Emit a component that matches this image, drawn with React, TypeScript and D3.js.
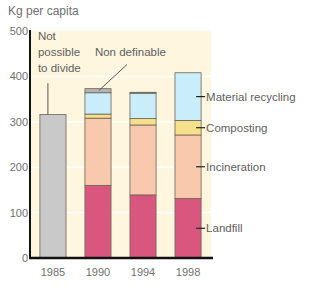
import { useEffect, useRef } from 'react';
import * as d3 from 'd3';

const years = ['1985', '1990', '1994', '1998'];
const undivided = [316, null, null, null];
const landfill = [0, 160, 139, 131];
const incineration = [0, 148, 154, 140];
const composting = [0, 9, 14, 32];
const recycling = [0, 47, 56, 105];
const nonDefinable = [0, 9, 2, 0];
const yTicks = [0, 100, 200, 300, 400, 500];

const seriesKeys = ['landfill', 'incineration', 'composting', 'recycling', 'nonDefinable'];
const seriesLabels = ['Landfill', 'Incineration', 'Composting', 'Material recycling', ''];
const seriesColors = ['#d9577f', '#f8c9ac', '#f7e08c', '#c9edfb', '#b4b4b4'];

const App = () => {
  const svgRef = useRef<SVGSVGElement>(null);

  useEffect(() => {
    if (!svgRef.current) return;
    const width = 309;
    const height = 288;
    d3.select(svgRef.current).selectAll('*').remove();

    const svg = d3.select(svgRef.current)
      .attr('width', width)
      .attr('height', height)
      .style('font-family', '"Liberation Sans", Arial, sans-serif');

    const margin = { top: 31, right: 98, bottom: 30, left: 30 };
    const innerWidth = width - margin.left - margin.right;
    const innerHeight = height - margin.top - margin.bottom;
    const g = svg.append('g').attr('transform', `translate(${margin.left},${margin.top})`);

    const xScale = d3.scaleBand().domain(years).range([0, innerWidth]).paddingInner(0.42).paddingOuter(0.22);
    const yScale = d3.scaleLinear().domain([0, 500]).range([innerHeight, 0]);

    // Background panel
    g.append('rect')
      .attr('x', 0).attr('y', 0)
      .attr('width', innerWidth).attr('height', innerHeight)
      .attr('fill', '#fff6df');

    // Grid lines
    g.selectAll('.grid')
      .data(yTicks.filter(t => t > 0 && t < 500))
      .enter()
      .append('line')
      .attr('x1', 0).attr('x2', innerWidth)
      .attr('y1', d => yScale(d)).attr('y2', d => yScale(d))
      .attr('stroke', '#ffffff').attr('stroke-width', 1.5);

    // Stacked data
    const table = years.map((y, i) => ({
      year: y,
      landfill: landfill[i],
      incineration: incineration[i],
      composting: composting[i],
      recycling: recycling[i],
      nonDefinable: nonDefinable[i],
    }));
    const stack = d3.stack<any>().keys(seriesKeys)(table);

    stack.forEach((layer, li) => {
      g.selectAll(`.bar-${li}`)
        .data(layer.filter(d => d[1] - d[0] > 0))
        .enter()
        .append('rect')
        .attr('x', d => xScale(d.data.year)!)
        .attr('y', d => yScale(d[1]))
        .attr('width', xScale.bandwidth())
        .attr('height', d => yScale(d[0]) - yScale(d[1]))
        .attr('fill', seriesColors[li])
        .attr('stroke', '#6e6355')
        .attr('stroke-width', 0.8);
    });

    // Undivided 1985 bar
    g.selectAll('.undivided')
      .data(years.map((y, i) => ({ year: y, v: undivided[i] })).filter(d => d.v !== null))
      .enter()
      .append('rect')
      .attr('x', d => xScale(d.year)!)
      .attr('y', d => yScale(d.v!))
      .attr('width', xScale.bandwidth())
      .attr('height', d => yScale(0) - yScale(d.v!))
      .attr('fill', '#c9c9c9')
      .attr('stroke', '#6e6355')
      .attr('stroke-width', 0.8);

    // Axes
    g.append('line')
      .attr('x1', 0).attr('x2', 0).attr('y1', -1).attr('y2', innerHeight)
      .attr('stroke', '#111').attr('stroke-width', 2);
    g.append('line')
      .attr('x1', -1).attr('x2', innerWidth + 2).attr('y1', innerHeight).attr('y2', innerHeight)
      .attr('stroke', '#111').attr('stroke-width', 2.5);

    g.selectAll('.ytick')
      .data(yTicks)
      .enter()
      .append('text')
      .attr('x', -2)
      .attr('y', d => yScale(d) + 4)
      .attr('text-anchor', 'end')
      .attr('fill', '#707070')
      .style('font-size', '11px')
      .text(d => d);

    g.selectAll('.xtick')
      .data(years)
      .enter()
      .append('text')
      .attr('x', d => xScale(d)! + xScale.bandwidth() / 2)
      .attr('y', innerHeight + 18)
      .attr('text-anchor', 'middle')
      .attr('fill', '#707070')
      .style('font-size', '11px')
      .text(d => d);

    svg.append('text')
      .attr('x', 8).attr('y', 15)
      .attr('fill', '#707070')
      .style('font-size', '12px')
      .text('Kg per capita');

    // Series labels beside 1998 bar
    const last = years.length - 1;
    const lastX = xScale(years[last])! + xScale.bandwidth();
    stack.forEach((layer, li) => {
      if (!seriesLabels[li]) return;
      const d = layer[last];
      const ym = yScale((d[0] + d[1]) / 2);
      g.append('line')
        .attr('x1', lastX - 5).attr('x2', lastX + 4)
        .attr('y1', ym).attr('y2', ym)
        .attr('stroke', '#222').attr('stroke-width', 1.2);
      g.append('text')
        .attr('x', lastX + 5)
        .attr('y', ym + 4)
        .attr('fill', '#606060')
        .style('font-size', '11.5px')
        .text(seriesLabels[li]);
    });

    // Annotation: not possible to divide
    const x85 = xScale(years[0])! + 8;
    ['Not', 'possible', 'to divide'].forEach((t, i) => {
      g.append('text')
        .attr('x', x85 - 10)
        .attr('y', yScale(480) + i * 16)
        .attr('fill', '#606060')
        .style('font-size', '11.5px')
        .text(t);
    });
    g.append('line')
      .attr('x1', x85).attr('x2', x85)
      .attr('y1', yScale(385)).attr('y2', yScale(undivided[0]!))
      .attr('stroke', '#555').attr('stroke-width', 1);

    // Annotation: non definable
    const x90 = xScale(years[1])!;
    const top90 = nonDefinable[1] + recycling[1] + composting[1] + incineration[1] + landfill[1];
    g.append('text')
      .attr('x', x90 + 10)
      .attr('y', yScale(445))
      .attr('fill', '#606060')
      .style('font-size', '11.5px')
      .text('Non definable');
    g.append('line')
      .attr('x1', x90 + 42).attr('x2', x90 + 14)
      .attr('y1', yScale(426)).attr('y2', yScale(top90 - 4))
      .attr('stroke', '#555').attr('stroke-width', 1);
  }, []);

  return (
    <div style={{ position: 'absolute', left: 0, top: 0 }}>
      <svg ref={svgRef} />
    </div>
  );
};

export default App;
